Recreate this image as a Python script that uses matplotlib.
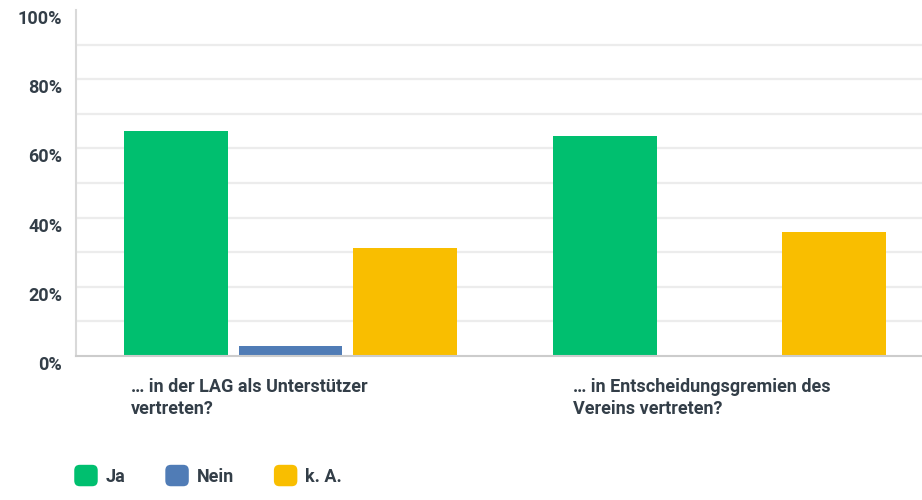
import matplotlib.pyplot as plt
from matplotlib.patches import FancyBboxPatch
from matplotlib.legend_handler import HandlerPatch
import numpy as np

# answer categories and shares (%)
categories = ['… in der LAG als Unterstützer\nvertreten?',
              '… in Entscheidungsgremien des\nVereins vertreten?']
series = ['Ja', 'Nein', 'k. A.']
ja = [65.0, 63.6]
nein = [2.9, 0.0]
ka = [31.3, 35.8]
colors = ['#00bf6f', '#507cb6', '#f9be00']
yticks = [0, 20, 40, 60, 80, 100]

plt.rcParams['font.family'] = ['Roboto', 'DejaVu Sans']
txt = '#333e48'

fig = plt.figure(figsize=(9.22, 5), dpi=100)
ax = fig.add_axes([76 / 922, 144 / 500, 846 / 922, 346 / 500])

x = np.arange(len(categories))
w = 0.2424
off = 0.266
for i, (vals, c) in enumerate(zip([ja, nein, ka], colors)):
    ax.bar(x + (i - 1) * off, vals, width=w, color=c, zorder=3, label=series[i])

ax.set_xlim(-0.5, 1.472)
ax.set_ylim(0, 100)
for v in range(10, 100, 10):
    ax.axhline(v, color='#ececec', lw=1.6, zorder=1)
ax.set_yticks(yticks)
ax.set_yticklabels([f'{v}%' for v in yticks], fontsize=13, fontweight='bold', color=txt,
                   va='top')
ax.tick_params(axis='y', length=0, pad=10)
ax.tick_params(axis='x', length=0, labelbottom=False)
for s in ['top', 'right']:
    ax.spines[s].set_visible(False)
ax.spines['left'].set_color('#d9d9d9')
ax.spines['left'].set_linewidth(1.5)
ax.spines['bottom'].set_color('#cccccc')
ax.spines['bottom'].set_linewidth(1.5)
ax.spines['bottom'].set_zorder(4)

# category labels, left aligned under each group
for xi, lab, shift in zip(x, categories, [-0.372, -0.342]):
    ax.text(xi + shift, -6.5, lab, ha='left', va='top', fontsize=13, fontweight='bold',
            color=txt, linespacing=1.25, transform=ax.transData, clip_on=False)


class RoundHandler(HandlerPatch):
    def create_artists(self, legend, orig_handle, xdescent, ydescent, width, height, fontsize, trans):
        p = FancyBboxPatch((-xdescent, -ydescent), width, height,
                           boxstyle='round,pad=0,rounding_size=4',
                           facecolor=orig_handle.get_facecolor(), edgecolor='none', transform=trans)
        return [p]


handles, labels = ax.get_legend_handles_labels()
handles = [h.patches[0] for h in handles]
leg = fig.legend(handles, labels, loc='lower left', bbox_to_anchor=(58 / 922, -0.005), ncol=3,
                 frameon=False, fontsize=13, handlelength=1.3, handleheight=1.45,
                 handletextpad=0.45, columnspacing=2.2,
                 handler_map={type(handles[0]): RoundHandler()})
for t in leg.get_texts():
    t.set_fontweight('bold')
    t.set_color(txt)

fig.savefig('out.png', dpi=100)
